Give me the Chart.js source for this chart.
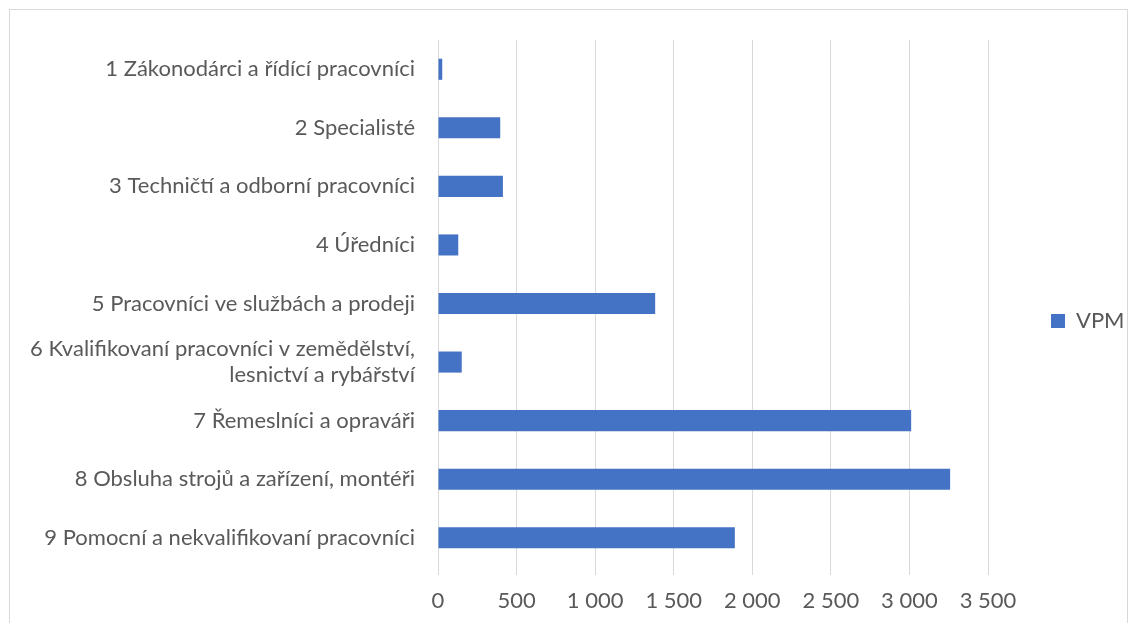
<!DOCTYPE html>
<html>
<head>
<meta charset="utf-8">
<script src="https://cdn.jsdelivr.net/npm/chart.js@4"></script>
<style>
  html, body { margin: 0; padding: 0; background: #fff; overflow: hidden; }
  #frame { position: absolute; left: 9px; top: 9px; width: 1117px; height: 700px; border: 1px solid #d9d9d9; }
  #wrap { position: absolute; left: 0; top: 0; width: 1137px; height: 623px; }
</style>
</head>
<body>
<div id="frame"></div>
<div id="wrap"><canvas id="chart" width="1137" height="623"></canvas></div>
<script>
const categories = [
  '1 Zákonodárci a řídící pracovníci',
  '2 Specialisté',
  '3 Techničtí a odborní pracovníci',
  '4 Úředníci',
  '5 Pracovníci ve službách a prodeji',
  ['6 Kvalifikovaní pracovníci v zemědělství,', 'lesnictví a rybářství'],
  '7 Řemeslníci a opraváři',
  '8 Obsluha strojů a zařízení, montéři',
  '9 Pomocní a nekvalifikovaní pracovníci'
];
const vpmValues = [27, 396, 413, 129, 1382, 151, 3011, 3259, 1889];
const seriesName = 'VPM';
const xTicks = [0, 500, 1000, 1500, 2000, 2500, 3000, 3500];

const fontFamily = 'Lato, "Open Sans", sans-serif';
const textColor = '#595959';
const gridColor = '#d9d9d9';

// legend sits a little above the middle of the plot, like in the original
const legendShift = {
  id: 'legendShift',
  afterLayout(chart) {
    if (chart.legend) {
      chart.legend.top = 19;
      chart.legend.left -= 6;
    }
  }
};

const ctx = document.getElementById('chart').getContext('2d');
const chart = new Chart(ctx, {
  type: 'bar',
  data: {
    labels: categories,
    datasets: [{
      label: seriesName,
      data: vpmValues,
      backgroundColor: '#4472C4',
      borderWidth: 0,
      barPercentage: 0.36,
      categoryPercentage: 1
    }]
  },
  options: {
    indexAxis: 'y',
    responsive: false,
    animation: false,
    layout: { padding: { top: 40, left: 0, right: 0, bottom: 0 } },
    scales: {
      x: {
        min: xTicks[0],
        max: xTicks[xTicks.length - 1],
        afterBuildTicks: (scale) => { scale.ticks = xTicks.map(v => ({ value: v })); },
        afterFit: (scale) => { scale.height = 623 - 567; },
        grid: { color: gridColor, lineWidth: 1, tickLength: 8, drawTicks: true },
        border: { display: false },
        ticks: {
          color: textColor,
          padding: 13,
          font: { family: fontFamily, size: 22 },
          callback: (v) => String(v).replace(/\B(?=(\d{3})+(?!\d))/g, ' ')
        }
      },
      y: {
        afterFit: (scale) => { scale.width = 438; },
        grid: { display: false },
        border: { display: false },
        ticks: {
          color: textColor,
          padding: 15,
          font: { family: fontFamily, size: 22 }
        }
      }
    },
    plugins: {
      legend: {
        position: 'right',
        maxWidth: 149,
        labels: {
          boxWidth: 14,
          boxHeight: 14,
          padding: 69,
          color: textColor,
          font: { family: fontFamily, size: 22 }
        }
      },
      tooltip: { enabled: false }
    }
  },
  plugins: [legendShift]
});
</script>
</body>
</html>
